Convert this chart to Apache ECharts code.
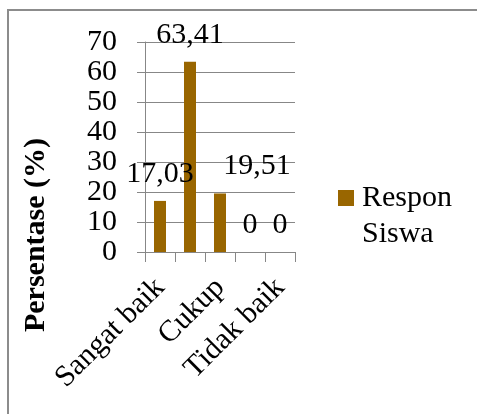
<!DOCTYPE html>
<html>
<head>
<meta charset="utf-8">
<script src="https://cdn.jsdelivr.net/npm/echarts@6/dist/echarts.min.js"></script>
<style>
html,body{margin:0;padding:0;background:#fff;}
#chart{width:477px;height:414px;}
</style>
</head>
<body>
<div id="chart"></div>
<script>
var categories = ["Sangat baik", "Baik", "Cukup", "Kurang baik", "Tidak baik"];
var responSiswa = [17.03, 63.41, 19.51, 0, 0];
var seriesName = "Respon Siswa";
var yTitle = "Persentase (%)";

var FONT = "'Liberation Serif','Times New Roman',serif";
var GRID = "#878787";
var chart = echarts.init(document.getElementById('chart'));

var barData = responSiswa.map(function (v, i) {
  if (i === 2) return { value: v, label: { offset: [37, 0] } };
  return v;
});

chart.setOption({
  animation: false,
  backgroundColor: '#fff',
  grid: { left: 145, right: 182, top: 42, bottom: 162, containLabel: false },
  graphic: [
    { type: 'rect', shape: { x: 8, y: 10, width: 600, height: 500 },
      style: { fill: 'none', stroke: '#8c8c8c', lineWidth: 2 }, silent: true, z: -1 },
    { type: 'text', x: 36, y: 235, rotation: Math.PI / 2,
      style: { text: yTitle, font: 'bold 30px ' + FONT, fill: '#000',
               align: 'center', verticalAlign: 'middle' } }
  ],
  legend: {
    left: 338, top: 144, padding: 0,
    icon: 'rect', itemWidth: 16, itemHeight: 16,
    data: [seriesName],
    formatter: function (n) { return '\n' + n.replace(' ', '\n'); },
    textStyle: { fontFamily: FONT, fontSize: 30, color: '#000', lineHeight: 36, padding: [0, 0, 0, 3] }
  },
  xAxis: {
    type: 'category',
    data: categories,
    boundaryGap: true,
    axisLine: { lineStyle: { color: GRID, width: 1 } },
    axisTick: { show: true, interval: 0, length: 10, alignWithLabel: false, lineStyle: { color: GRID } },
    axisLabel: { interval: 1, rotate: 45, margin: 31, fontFamily: FONT, fontSize: 30, color: '#000' }
  },
  yAxis: {
    type: 'value', min: 0, max: 70, interval: 10,
    axisLine: { show: true, lineStyle: { color: GRID, width: 1 } },
    axisTick: { show: true, length: 8, lineStyle: { color: GRID } },
    splitLine: { show: true, lineStyle: { color: GRID, width: 1 } },
    axisLabel: { margin: 28, fontFamily: FONT, fontSize: 30, color: '#000' }
  },
  series: [{
    name: seriesName,
    type: 'bar',
    data: barData,
    barWidth: 12,
    itemStyle: { color: '#996600' },
    label: {
      show: true, position: 'top', distance: 12,
      fontFamily: FONT, fontSize: 30, color: '#000',
      formatter: function (p) { return String(p.value).replace('.', ','); }
    }
  }]
});
</script>
</body>
</html>
